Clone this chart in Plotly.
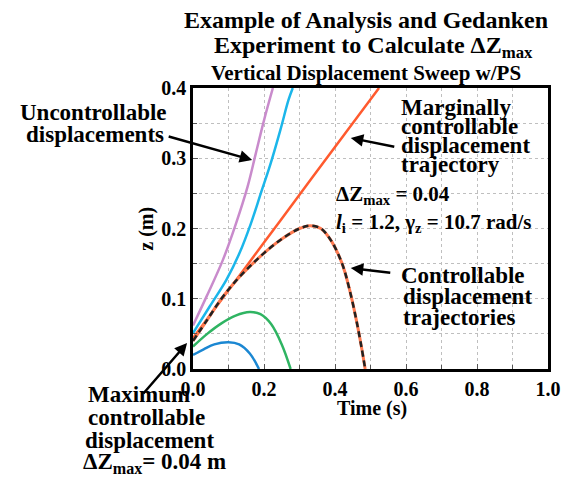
import plotly.graph_objects as go

# ---- data ----
t_blue = [0.0, 0.03, 0.06, 0.10, 0.13, 0.16, 0.186]
z_blue = [0.020, 0.028, 0.035, 0.038, 0.035, 0.022, 0.0]

t_green = [0.0, 0.04, 0.08, 0.12, 0.16, 0.19, 0.22, 0.25, 0.275]
z_green = [0.032, 0.050, 0.065, 0.076, 0.081, 0.078, 0.064, 0.035, 0.0]

t_ctrl = [0.0, 0.04, 0.08, 0.12, 0.16, 0.20, 0.25, 0.30, 0.33, 0.36, 0.39, 0.42, 0.44, 0.46, 0.475, 0.485]
z_ctrl = [0.040, 0.070, 0.100, 0.125, 0.146, 0.165, 0.185, 0.200, 0.204, 0.200, 0.182, 0.150, 0.115, 0.070, 0.030, 0.0]

t_marg = [0.0, 0.1, 0.2, 0.3, 0.4, 0.524]
z_marg = [0.044, 0.112, 0.180, 0.248, 0.316, 0.400]

t_cyan = [0.0, 0.047, 0.094, 0.131, 0.163, 0.191, 0.219, 0.246, 0.269, 0.281]
z_cyan = [0.051, 0.089, 0.127, 0.165, 0.207, 0.250, 0.293, 0.340, 0.383, 0.400]

t_pink = [0.0, 0.038, 0.084, 0.121, 0.154, 0.177, 0.200, 0.225]
z_pink = [0.062, 0.103, 0.155, 0.207, 0.260, 0.307, 0.354, 0.400]

x_ticks = [0.0, 0.2, 0.4, 0.6, 0.8, 1.0]
x_ticklabels = ["0.0", "0.2", "0.4", "0.6", "0.8", "1.0"]
y_ticks = [0.0, 0.1, 0.2, 0.3, 0.4]
y_ticklabels = ["0.0", "0.1", "0.2", "0.3", "0.4"]

# ---- layout geometry ----
W, H = 573, 483
L, R, T, B = 193, 20, 88, 114
PW, PH = W - L - R, H - T - B
FONT = "Liberation Serif"


def px(xp):
    return (xp - L) / PW


def py(yp):
    return (H - B - yp) / PH


fig = go.Figure()
for t, z, c in [(t_blue, z_blue, "#1b87d2"), (t_green, z_green, "#2fb462"),
                (t_pink, z_pink, "#c98bcc"), (t_cyan, z_cyan, "#1bb6ea"),
                (t_marg, z_marg, "#ff5a2e")]:
    fig.add_trace(go.Scatter(x=t, y=z, mode="lines", line=dict(color=c, width=2.5),
                             line_shape="spline", showlegend=False, hoverinfo="skip"))
fig.add_trace(go.Scatter(x=t_ctrl, y=z_ctrl, mode="lines", line=dict(color="#ff7a50", width=3),
                         line_shape="spline", showlegend=False, hoverinfo="skip"))
fig.add_trace(go.Scatter(x=t_ctrl, y=z_ctrl, mode="lines",
                         line=dict(color="#222222", width=2.5, dash="6px,4px"),
                         line_shape="spline", showlegend=False, hoverinfo="skip"))

anns = []


def text(s, x, baseline, size=23, anchor="left"):
    anns.append(dict(text=s, x=px(x), y=py(baseline - 0.32 * size), xref="paper", yref="paper",
                     xanchor=anchor, yanchor="middle", showarrow=False, borderpad=0,
                     font=dict(family=FONT, size=size, color="black")))


def arrow(hx, hy, tx, ty):
    anns.append(dict(text="", x=px(hx), y=py(hy), xref="paper", yref="paper",
                     ax=tx - hx, ay=ty - hy, showarrow=True, arrowhead=2, arrowsize=1,
                     arrowwidth=2.5, arrowcolor="black", standoff=0))


# titles
text("<b>Example of Analysis and Gedanken</b>", 368, 28, 24, "center")
text("<b>Experiment to Calculate ΔZ<sub>max</sub></b>", 376, 55, 24, "center")
text("<b>Vertical Displacement Sweep w/PS</b>", 368, 80, 21, "center")

# left annotation
text("<b>Uncontrollable</b>", 92, 120, 23, "center")
text("<b>displacements</b>", 94, 142, 23, "center")
# right annotations
text("<b>Marginally</b>", 403, 115)
text("<b>controllable</b>", 403, 134)
text("<b>displacement</b>", 403, 153)
text("<b>trajectory</b>", 403, 172)
text("<b>ΔZ<sub>max</sub> = 0.04</b>", 337, 202, 21)
text("<b><i>l</i><sub>i</sub> = 1.2, γ<sub>z</sub> = 10.7 rad/s</b>", 337, 230, 21)
text("<b>Controllable</b>", 403, 283)
text("<b>displacement</b>", 405, 304)
text("<b>trajectories</b>", 405, 325)
# bottom-left
text("<b>Maximum</b>", 85, 402)
text("<b>controllable</b>", 85, 425)
text("<b>displacement</b>", 82, 448)
text("<b>ΔZ<sub>max</sub>= 0.04 m</b>", 80, 470)

# axis titles
text("<b>Time (s)</b>", 375, 415, 20, "center")
anns.append(dict(text="<b>z (m)</b>", x=px(145), y=py(229), xref="paper", yref="paper",
                 textangle=-90, showarrow=False, xanchor="center", yanchor="middle",
                 font=dict(family=FONT, size=20, color="black")))

arrow(253, 160, 168, 136)
arrow(353, 138, 398, 147)
arrow(353, 268, 394, 273)
arrow(187, 343, 142, 395)

grid = dict(gridcolor="#bfbfbf", griddash="dot", gridwidth=1)
fig.update_layout(
    width=W, height=H, margin=dict(l=L, r=R, t=T, b=B),
    paper_bgcolor="white", plot_bgcolor="white",
    annotations=anns,
    xaxis=dict(range=[0, 1], tickvals=x_ticks, ticktext=x_ticklabels, showgrid=True, **grid,
               showline=True, linecolor="black", linewidth=2.5, mirror=True,
               ticks="inside", ticklen=5, tickcolor="#555", zeroline=False,
               minor=dict(dtick=0.1, showgrid=True, ticks="inside", ticklen=4, tickcolor="#555", **grid),
               tickfont=dict(family=FONT, size=20, color="black", weight="bold")),
    yaxis=dict(range=[0, 0.4], tickvals=y_ticks, ticktext=y_ticklabels, showgrid=True, **grid,
               showline=True, linecolor="black", linewidth=2.5, mirror=True,
               ticks="inside", ticklen=5, tickcolor="#555", zeroline=False,
               minor=dict(dtick=0.05, showgrid=True, ticks="inside", ticklen=4, tickcolor="#555", **grid),
               tickfont=dict(family=FONT, size=20, color="black", weight="bold")),
)
fig.write_html("out.html")
